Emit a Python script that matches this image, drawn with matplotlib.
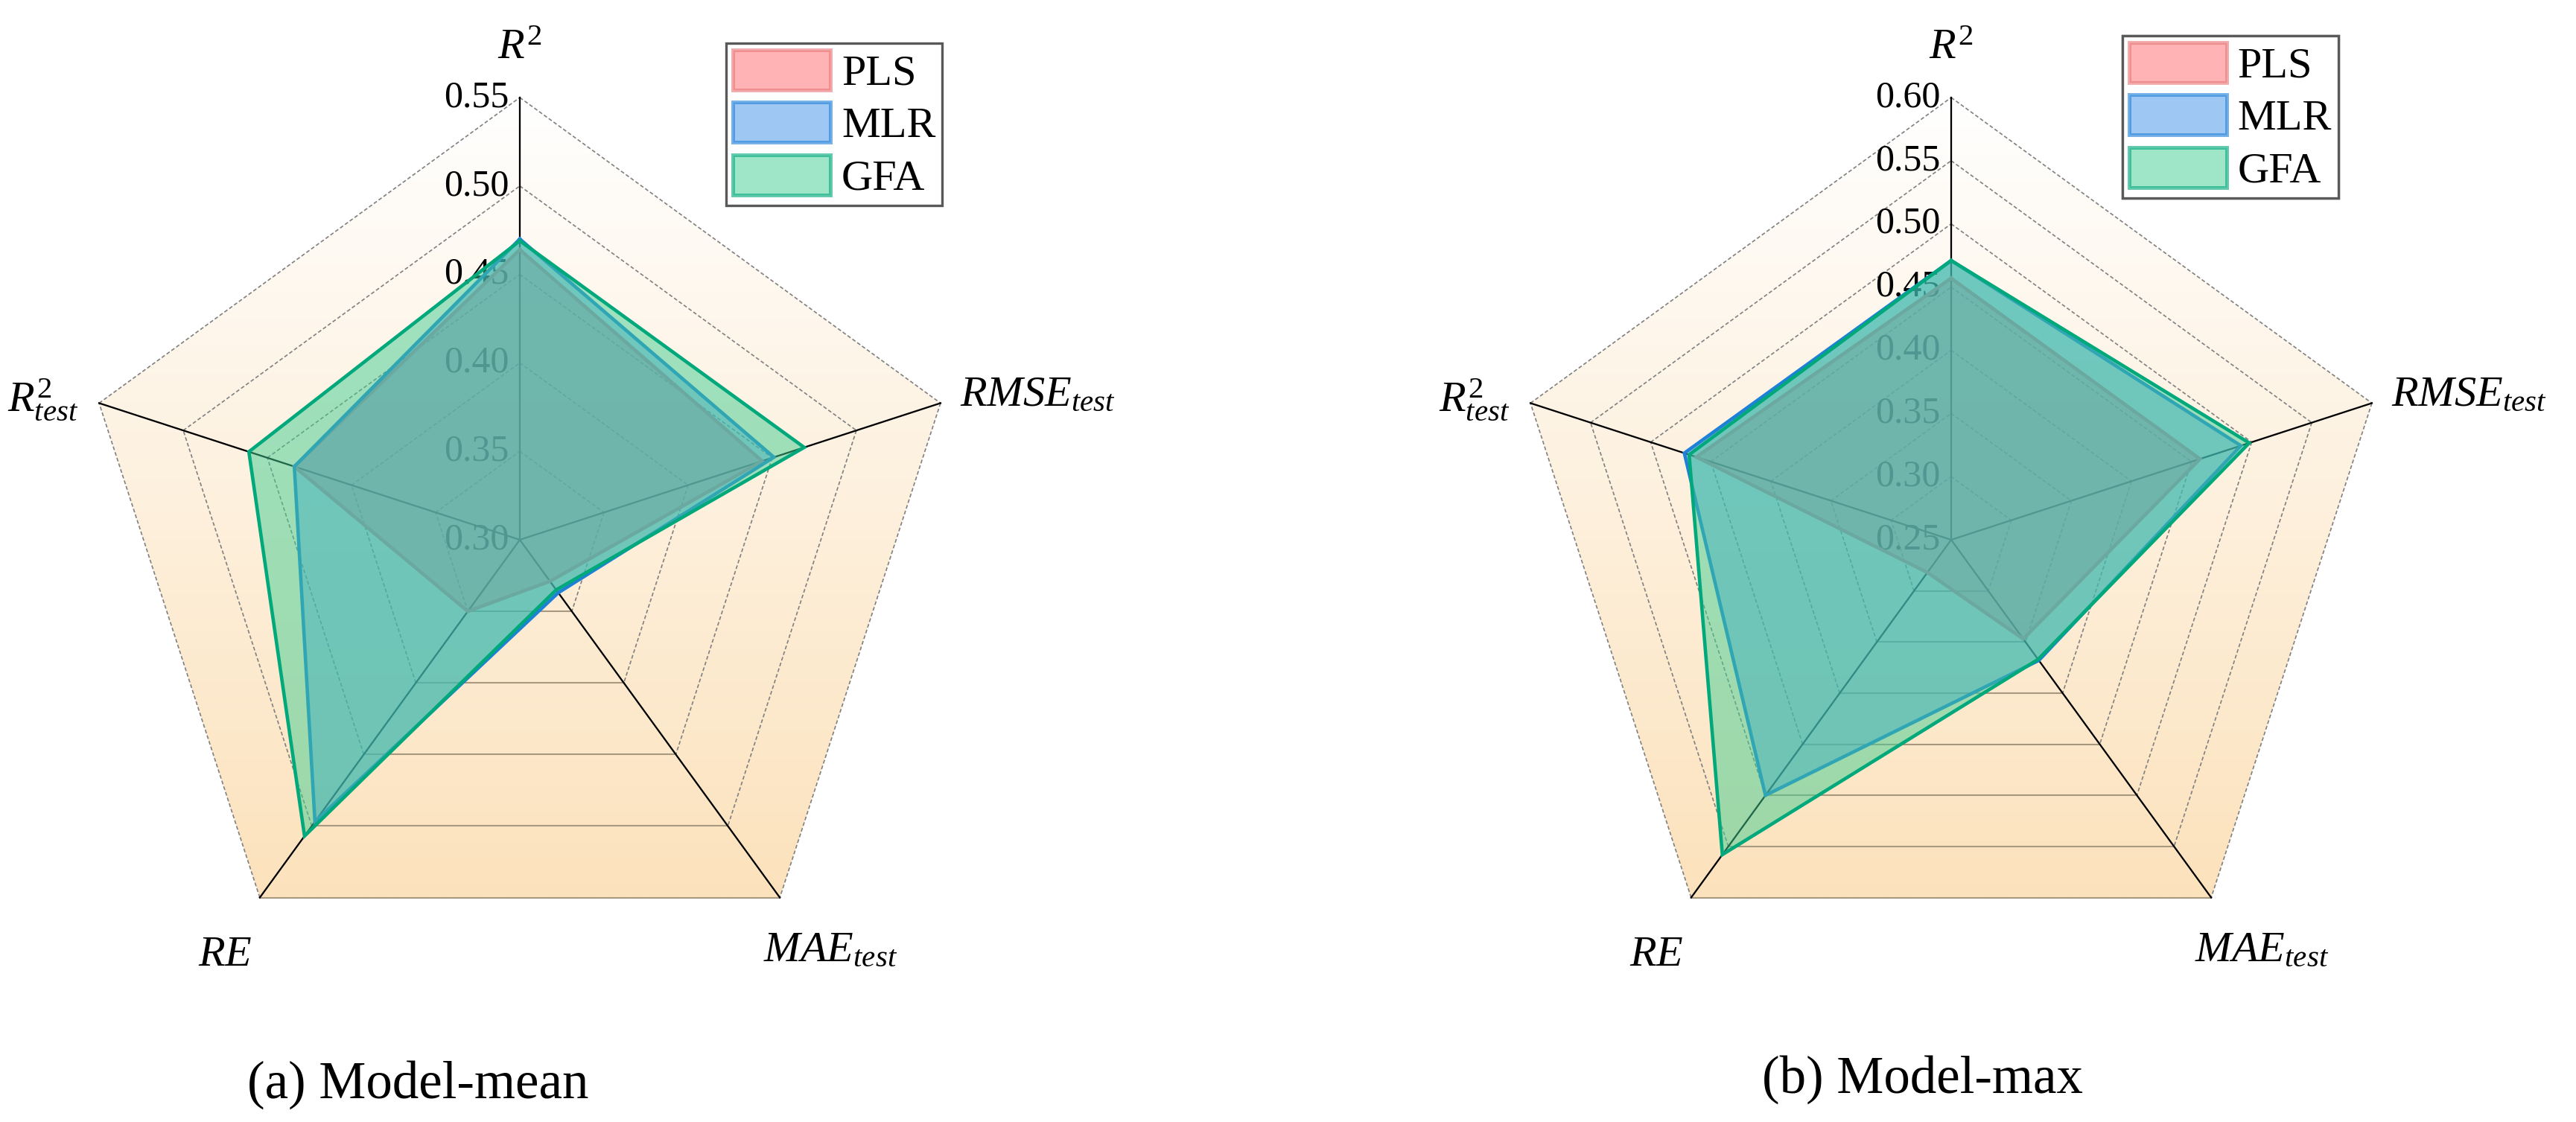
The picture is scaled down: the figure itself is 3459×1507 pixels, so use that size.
import numpy as np
import matplotlib
matplotlib.use("Agg")
import matplotlib.pyplot as plt
from matplotlib.patches import Polygon, Patch
from matplotlib.colors import to_rgb

plt.rcParams["font.family"] = ["Liberation Serif", "DejaVu Serif"]
plt.rcParams["mathtext.fontset"] = "custom"
plt.rcParams["mathtext.rm"] = "Liberation Serif"
plt.rcParams["mathtext.it"] = "Liberation Serif:italic"

# axes of the radar, clockwise from the top
AXIS_LABELS = ["$R^2$", "$RMSE_{test}$", "$MAE_{test}$", "$RE$", "$R^2_{test}$"]
MODELS = ["PLS", "MLR", "GFA"]

# (a) Model-mean
MEAN_TICKS = [0.30, 0.35, 0.40, 0.45, 0.50, 0.55]
MEAN_PLS = [0.464, 0.444, 0.329, 0.350, 0.434]
MEAN_MLR = [0.470, 0.451, 0.337, 0.497, 0.434]
MEAN_GFA = [0.469, 0.469, 0.335, 0.507, 0.461]

# (b) Model-max
MAX_TICKS = [0.25, 0.30, 0.35, 0.40, 0.45, 0.50, 0.55, 0.60]
MAX_PLS = [0.457, 0.457, 0.347, 0.282, 0.462]
MAX_MLR = [0.471, 0.491, 0.368, 0.500, 0.472]
MAX_GFA = [0.471, 0.498, 0.367, 0.558, 0.468]

FILL_COLORS = ["#FF696D", "#4191EB", "#41CD91"]
EDGE_COLORS = ["#E87878", "#1F80D8", "#00A87C"]

W, H = 3459, 1507
fig = plt.figure(figsize=(W / 300, H / 300), dpi=300)
ax = fig.add_axes([0, 0, 1, 1])
ax.set_xlim(0, W)
ax.set_ylim(H, 0)
ax.axis("off")


def gradient_image(n=256):
    top = np.array(to_rgb("#FFFFFF"))
    bottom = np.array(to_rgb("#FCE2BC"))
    t = np.linspace(0, 1, n)[:, None]
    return (top + (bottom - top) * t)[:, None, :]


def draw_radar(cx, cy, R, ticks, series, legend_anchor, caption, caption_xy):
    lo, hi = ticks[0], ticks[-1]
    n_axes = len(AXIS_LABELS)
    theta = np.deg2rad(90 - 72 * np.arange(n_axes))
    ux, uy = np.cos(theta), -np.sin(theta)

    def to_xy(values):
        r = (np.asarray(values) - lo) / (hi - lo) * R
        return cx + r * ux, cy + r * uy

    # background pentagon with vertical gradient
    outer = np.column_stack([cx + R * ux, cy + R * uy])
    poly = Polygon(outer, closed=True, facecolor="none", edgecolor="none")
    ax.add_patch(poly)
    ybot = cy + R * np.cos(np.deg2rad(36))
    im = ax.imshow(gradient_image(), extent=(cx - R, cx + R, ybot, cy - R),
                   origin="upper", aspect="auto", zorder=0, interpolation="bilinear")
    im.set_clip_path(poly)

    # rings
    n_lev = len(ticks) - 1
    for i in range(1, n_lev + 1):
        r = R * i / n_lev
        px, py = cx + r * ux, cy + r * uy
        for k in range(n_axes):
            j = (k + 1) % n_axes
            if k == 2:
                ax.plot([px[k], px[j]], [py[k], py[j]], color="#A89880",
                        lw=0.5, zorder=1)
            else:
                ax.plot([px[k], px[j]], [py[k], py[j]], color="#808080",
                        lw=0.4, dashes=(3, 1.8), zorder=1)

    # spokes
    for k in range(n_axes):
        ax.plot([cx, cx + R * ux[k]], [cy, cy + R * uy[k]], color="black",
                lw=0.55, zorder=1.5)

    # tick labels on the R^2 axis
    for i, t in enumerate(ticks):
        ax.text(cx - 14, cy - R * i / n_lev, f"{t:.2f}", ha="right", va="center",
                fontsize=12, zorder=2)

    # series
    for vals, fc, ec in zip(series, FILL_COLORS, EDGE_COLORS):
        xs, ys = to_xy(vals)
        ax.fill(xs, ys, color=fc, alpha=0.5, lw=0, zorder=3)
        ax.plot(np.append(xs, xs[0]), np.append(ys, ys[0]), color=ec, lw=1.1,
                zorder=3, solid_joinstyle="miter")

    # axis labels
    vx, vy = cx + R * ux, cy + R * uy
    ax.text(vx[0], vy[0] - 66, AXIS_LABELS[0], ha="center", va="center", fontsize=14)
    ax.text(vx[1] + 26, vy[1] - 10, AXIS_LABELS[1], ha="left", va="center", fontsize=14)
    ax.text(vx[2] - 22, vy[2] + 72, AXIS_LABELS[2], ha="left", va="center", fontsize=14)
    ax.text(vx[3] - 10, vy[3] + 77, AXIS_LABELS[3], ha="right", va="center", fontsize=14)
    ax.text(vx[4] - 28, vy[4] - 4, AXIS_LABELS[4], ha="right", va="center", fontsize=14)

    handles = [Patch(facecolor=(*to_rgb(fc), 0.5), edgecolor=(*to_rgb(ec), 0.6), lw=1.2)
               for fc, ec in zip(FILL_COLORS, EDGE_COLORS)]
    leg = ax.legend(handles, MODELS, loc="upper right", bbox_to_anchor=legend_anchor,
                    bbox_transform=ax.transData, fontsize=14, frameon=True,
                    fancybox=False, framealpha=1, edgecolor="0.35", borderpad=0.15,
                    borderaxespad=0, handlelength=2.25, handleheight=1.05,
                    handletextpad=0.25, labelspacing=0.2)
    leg.get_frame().set_linewidth(0.8)
    ax.add_artist(leg)

    ax.text(caption_xy[0], caption_xy[1], caption, ha="left", va="center", fontsize=17)


draw_radar(698, 725, 594, MEAN_TICKS, [MEAN_PLS, MEAN_MLR, MEAN_GFA],
           (1265, 58), "(a) Model-mean", (332, 1457))
draw_radar(2620, 725, 594, MAX_TICKS, [MAX_PLS, MAX_MLR, MAX_GFA],
           (3140, 48), "(b) Model-max", (2366, 1450))

fig.savefig("out.png", dpi=300)
